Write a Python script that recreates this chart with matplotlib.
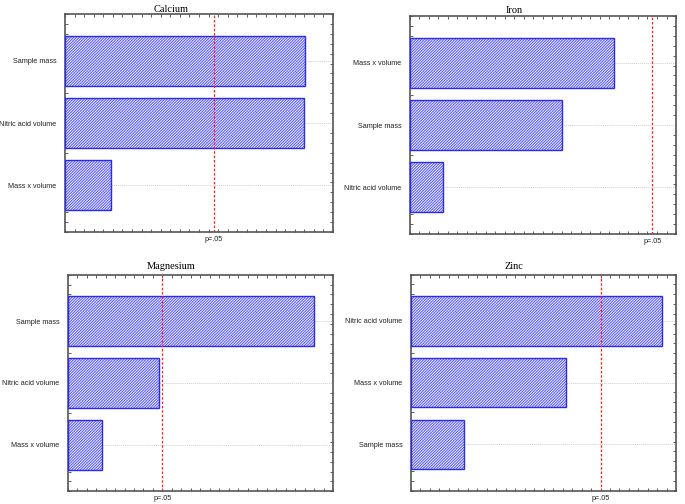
import numpy as np
import matplotlib
matplotlib.use("Agg")
import matplotlib.pyplot as plt

# standardized effect estimates (axis labels hidden in the original)
p_crit = 2.45

calcium_labels = ['Sample mass', 'Nitric acid volume', 'Mass x volume']
calcium_values = [3.95, 3.93, 0.76]
calcium_xmax = 4.41

iron_labels = ['Mass x volume', 'Sample mass', 'Nitric acid volume']
iron_values = [2.06, 1.54, 0.34]
iron_xmax = 2.69

magnesium_labels = ['Sample mass', 'Nitric acid volume', 'Mass x volume']
magnesium_values = [6.39, 2.37, 0.89]
magnesium_xmax = 6.87

zinc_labels = ['Nitric acid volume', 'Mass x volume', 'Sample mass']
zinc_values = [3.24, 2.00, 0.68]
zinc_xmax = 3.42

plt.rcParams['hatch.linewidth'] = 0.75

fig = plt.figure(figsize=(6.85, 5.04), dpi=100)

# axes rectangles and panel centres (figure fraction)
panels = [
    ('Calcium', calcium_labels, calcium_values, calcium_xmax,
     [0.0949, 0.5397, 0.3912, 0.4325], 0.25, 0.990),
    ('Iron', iron_labels, iron_values, iron_xmax,
     [0.5981, 0.5357, 0.3888, 0.4325], 0.75, 0.988),
    ('Magnesium', magnesium_labels, magnesium_values, magnesium_xmax,
     [0.0988, 0.0252, 0.3873, 0.4298], 0.25, 0.480),
    ('Zinc', zinc_labels, zinc_values, zinc_xmax,
     [0.6000, 0.0264, 0.3873, 0.4288], 0.75, 0.480),
]

for title, labels, values, xmax, rect, cx, ty in panels:
    ax = fig.add_axes(rect)
    y = np.arange(len(labels))
    # hatch layer (lighter blue) then the outline
    ax.barh(y, values, height=0.8, color='#f4f4ff', edgecolor='#5a5aff',
            hatch='/' * 12, linewidth=0, zorder=3)
    ax.barh(y, values, height=0.8, color='none', edgecolor='#2b2bf0',
            linewidth=1.0, zorder=3.5)
    for yy in y:
        ax.axhline(yy, color='#cfcfcf', linewidth=0.7, linestyle=(0, (1, 1)), zorder=1)
    ax.axvline(p_crit, color='#ff2020', linewidth=0.9, linestyle=(0, (2, 1.5)), zorder=4)

    ax.set_xlim(0, xmax)
    ax.set_ylim(2.75, -0.75)
    ax.set_yticks(y)
    ax.set_yticklabels(labels, family='Liberation Sans', fontsize=5.2, color='#222222')
    ax.set_xticks([p_crit])
    ax.set_xticklabels(['p=.05'], family='Liberation Sans', fontsize=5.2, color='#222222')
    ax.set_xticks(np.linspace(0, xmax, 29), minor=True)
    ax.set_yticks(np.linspace(2.75, -0.75, 23), minor=True)
    ax.tick_params(axis='both', which='both', direction='in', top=True, right=True,
                   color='#444444', width=0.6)
    ax.tick_params(axis='y', which='major', length=0, pad=6)
    ax.tick_params(axis='x', which='major', length=0, pad=3)
    ax.tick_params(axis='both', which='minor', length=2)
    for s in ax.spines.values():
        s.set_color('#555555')
        s.set_linewidth(1.2)

    fig.text(cx, ty, title, ha='center', va='top', family='Liberation Serif', fontsize=7.5)

fig.savefig('out.png', dpi=100)
